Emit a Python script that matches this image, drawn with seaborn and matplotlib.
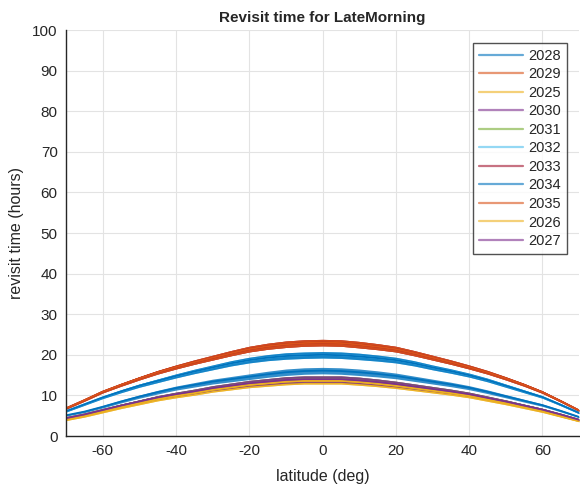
import numpy as np
import pandas as pd
import matplotlib
matplotlib.use("Agg")
import matplotlib.pyplot as plt
import seaborn as sns
from matplotlib.lines import Line2D

latitude = list(range(-70, 75, 5))

curve_top = [6.8, 8.8, 10.9, 12.6, 14.2, 15.7, 17.0, 18.2, 19.3, 20.4, 21.4, 22.1, 22.6, 22.9, 23.0,
             22.9, 22.5, 22.0, 21.4, 20.4, 19.3, 18.2, 17.0, 15.7, 14.2, 12.6, 10.8, 8.6, 6.3]
curve_b20 = [6.1, 7.8, 9.5, 11.0, 12.4, 13.6, 14.8, 15.9, 16.9, 17.9, 18.7, 19.3, 19.7, 19.9, 20.0,
             19.9, 19.6, 19.2, 18.7, 17.9, 16.9, 16.0, 15.0, 13.8, 12.4, 11.0, 9.6, 7.7, 5.7]
curve_b16 = [5.1, 6.0, 7.2, 8.5, 9.7, 10.8, 11.8, 12.6, 13.4, 14.0, 14.6, 15.2, 15.7, 16.0, 16.1,
             16.0, 15.7, 15.3, 14.8, 14.1, 13.4, 12.7, 11.9, 10.9, 9.8, 8.7, 7.6, 6.2, 4.7]
curve_p14 = [4.4, 5.3, 6.4, 7.5, 8.5, 9.5, 10.3, 11.0, 11.8, 12.4, 13.0, 13.4, 13.8, 14.0, 14.0,
             14.0, 13.7, 13.3, 12.8, 12.2, 11.6, 11.0, 10.3, 9.4, 8.5, 7.5, 6.5, 5.3, 4.0]
curve_y13 = [4.0, 4.9, 6.0, 7.1, 8.1, 9.1, 9.9, 10.6, 11.4, 12.0, 12.6, 13.0, 13.4, 13.6, 13.6,
             13.6, 13.3, 12.9, 12.4, 11.8, 11.2, 10.6, 9.9, 9.0, 8.1, 7.1, 6.1, 4.9, 3.7]
# half-height of the sample-to-sample oscillation around each curve
spread = [0.2, 0.25, 0.3, 0.35, 0.4, 0.45, 0.5, 0.55, 0.6, 0.65, 0.7, 0.75, 0.8, 0.8, 0.8,
          0.8, 0.8, 0.75, 0.7, 0.65, 0.6, 0.55, 0.5, 0.45, 0.4, 0.35, 0.3, 0.25, 0.2]

years = ["2028", "2029", "2025", "2030", "2031", "2032", "2033", "2034", "2035", "2026", "2027"]
year_values = {
    "2028": curve_b16, "2029": curve_top, "2025": curve_y13, "2030": curve_p14,
    "2031": curve_p14, "2032": curve_b20, "2033": curve_top, "2034": curve_b20,
    "2035": curve_top, "2026": curve_y13, "2027": curve_p14,
}
colors = ["#0072BD", "#D95319", "#EDB120", "#7E2F8E", "#77AC30", "#4DBEEE",
          "#A2142F", "#0072BD", "#D95319", "#EDB120", "#7E2F8E"]

rows = []
for y in years:
    for la, v in zip(latitude, year_values[y]):
        rows.append({"latitude": la, "revisit": v, "year": y})
df = pd.DataFrame(rows)

sns.set_style("white")
plt.rcParams["font.family"] = ["Liberation Sans", "DejaVu Sans"]
plt.rcParams["axes.unicode_minus"] = False

fig = plt.figure(figsize=(5.8, 4.86), dpi=100)
ax = fig.add_axes([66 / 580, 1 - 436 / 486, 513 / 580, 406 / 486])

palette = dict(zip(years, colors))
sns.lineplot(data=df, x="latitude", y="revisit", hue="year", hue_order=years,
             palette=palette, ax=ax, linewidth=1.3, alpha=1.0, legend=False)
# oscillation band drawn over each line in its own colour
for y, c in zip(years, colors):
    vals = np.array(year_values[y])
    sp = np.array(spread)
    ax.fill_between(latitude, vals - sp, vals + sp, color=c, alpha=0.8, lw=0)

ax.set_xlim(-70, 70)
ax.set_ylim(0, 100)
ax.set_xticks([-60, -40, -20, 0, 20, 40, 60])
ax.set_yticks(range(0, 101, 10))
ax.grid(True, color="#e3e3e3", linewidth=0.8)
ax.set_axisbelow(True)
for s in ["top", "right"]:
    ax.spines[s].set_visible(False)
for s in ["left", "bottom"]:
    ax.spines[s].set_color("#262626")
    ax.spines[s].set_linewidth(1.0)
ax.tick_params(direction="in", length=5, width=1.0, color="#262626",
               labelsize=11, labelcolor="#262626", pad=6)

ax.set_title("Revisit time for LateMorning", fontsize=11, fontweight="bold", pad=6)
ax.set_xlabel("latitude (deg)", fontsize=11.5, color="#262626", labelpad=8)
ax.set_ylabel("revisit time (hours)", fontsize=11.5, color="#262626", labelpad=6)

handles = [Line2D([0], [0], color=c, lw=1.6, alpha=0.6) for c in colors]
leg = ax.legend(handles, years, loc="upper right", bbox_to_anchor=(0.977, 0.968),
                fontsize=10.5, frameon=True, fancybox=False, edgecolor="#262626",
                handlelength=3.0, handletextpad=0.4, labelspacing=0.31,
                borderpad=0.4, borderaxespad=0)
leg.get_frame().set_linewidth(1.0)
for t in leg.get_texts():
    t.set_color("#262626")

fig.savefig("out.png", dpi=100)
